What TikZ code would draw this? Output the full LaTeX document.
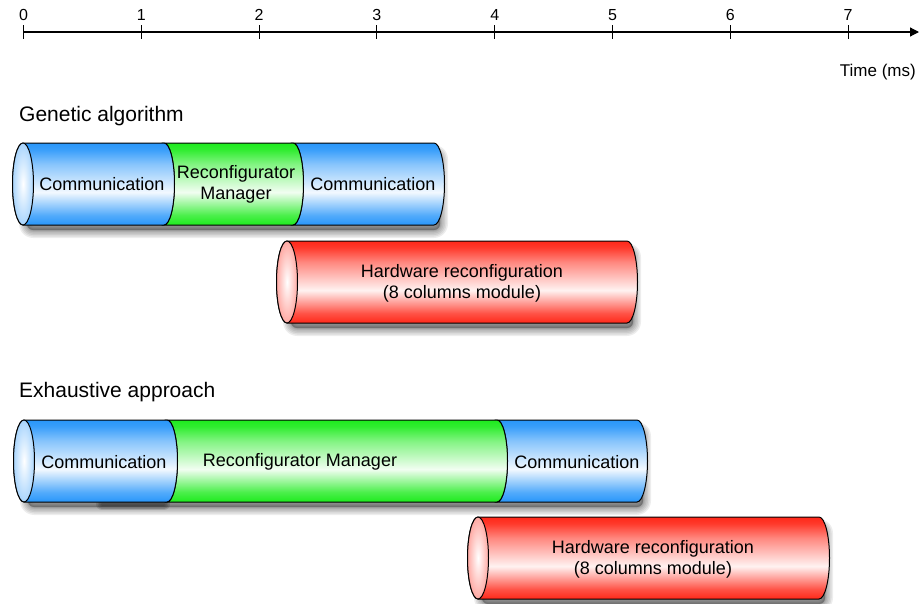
\documentclass[tikz,border=0pt]{standalone}
\usepackage{fontspec}
\setmainfont{Liberation Sans}
\usetikzlibrary{arrows.meta}
\definecolor{cblue}{RGB}{40,150,250}
\definecolor{cgreen}{RGB}{30,235,30}
\definecolor{cred}{RGB}{255,40,25}
\pgfdeclareverticalshading{shblue}{100bp}{color(0bp)=(cblue); color(25bp)=(cblue); color(31bp)=(cblue!80); color(45bp)=(cblue!6); color(62bp)=(cblue!55); color(71bp)=(cblue!92); color(75bp)=(cblue); color(100bp)=(cblue)}
\pgfdeclareverticalshading{shgreen}{100bp}{color(0bp)=(cgreen); color(25bp)=(cgreen); color(31bp)=(cgreen!80); color(45bp)=(cgreen!6); color(62bp)=(cgreen!55); color(71bp)=(cgreen!92); color(75bp)=(cgreen); color(100bp)=(cgreen)}
\pgfdeclareverticalshading{shred}{100bp}{color(0bp)=(cred); color(25bp)=(cred); color(31bp)=(cred!80); color(45bp)=(cred!6); color(62bp)=(cred!55); color(71bp)=(cred!92); color(75bp)=(cred); color(100bp)=(cred)}
\pgfdeclareradialshading{fblue}{\pgfpoint{0bp}{0bp}}{color(0bp)=(white); color(25bp)=(cblue!40); color(50bp)=(cblue!40)}
\pgfdeclareradialshading{fred}{\pgfpoint{0bp}{0bp}}{color(0bp)=(white); color(25bp)=(cred!40); color(50bp)=(cred!40)}
\tikzset{
  outl/.style={draw=black, line width=1pt, shade},
  lbl/.style={font=\fontsize{18}{21}\selectfont, align=center, inner sep=0pt},
  ttl/.style={font=\fontsize{21}{24}\selectfont, anchor=west, inner sep=0pt},
  tick lbl/.style={font=\fontsize{16}{18}\selectfont, inner sep=0pt},
}
\def\rx{10.5pt}
\def\ry{41pt}
% first segment: xs xe y1 y2 bodyshading faceshading
\newcommand\cylfirst[6]{%
  \path[outl, shading=#5] (#1,#3) -- (#2,#3)
     arc[start angle=90, end angle=-90, x radius=\rx, y radius=\ry]
     -- (#1,#4)
     arc[start angle=270, end angle=90, x radius=\rx, y radius=\ry] -- cycle;
  \path[outl, shading=#6] (#1,{(#3+#4)/2}) ellipse[x radius=\rx, y radius=\ry];
}
% following segment: xs xe y1 y2 bodyshading
\newcommand\cylnext[5]{%
  \path[outl, shading=#5] (#1,#3) -- (#2,#3)
     arc[start angle=90, end angle=-90, x radius=\rx, y radius=\ry]
     -- (#1,#4)
     arc[start angle=-90, end angle=90, x radius=\rx, y radius=\ry] -- cycle;
}
% soft shadow: xs xe y1 y2
\newcommand\barshadow[4]{%
  \foreach \w in {16,13,10,7,4,2}{%
    \draw[black, opacity=0.07, line width=\w pt, line join=round, rounded corners=6pt]
      (#1+4,#3+10) -- (#2+6,#3+10) -- (#2+6,#4+5) -- (#1+4,#4+5) -- cycle;}
  \fill[black, opacity=0.3, rounded corners=6pt] (#1+4,#3+10) rectangle (#2+6,#4+5);
}
% darker soft strip: xa xb y
\newcommand\darkstrip[3]{%
  \foreach \w in {12,9,6,3}{%
    \draw[black, opacity=0.12, line width=\w pt, line cap=round] (#1,#3) -- (#2,#3);}
}
\begin{document}
\begin{tikzpicture}[x=1pt, y=-1pt]
\useasboundingbox (0,0) rectangle (919,603);
\fill[white] (0,0) rectangle (919,603);

% time axis
\coordinate (axs) at (23.5,32);
\coordinate (axe) at (919,32);
\draw[line width=1.2pt, -{Triangle[length=9pt, width=9pt]}] (axs) -- (axe);
\foreach \k in {0,...,7}{%
  \draw[line width=1pt] ({23.5+117.8*\k},25) -- ({23.5+117.8*\k},39);
  \node[tick lbl] (t\k) at ({23.5+117.8*\k},15) {\k};
}
\node[tick lbl, font=\fontsize{17}{19}\selectfont, anchor=east] (tms) at (916,72) {Time (ms)};

% titles
\node[ttl] (gtitle) at (19,116) {Genetic algorithm};
\node[ttl] (etitle) at (19,392) {Exhaustive approach};

% shadows
\barshadow{23}{434}{143}{225}
\barshadow{287}{627}{241}{323}
\barshadow{24}{637}{420}{502}
\barshadow{478}{819}{517}{599}
\darkstrip{102}{164}{504}

% genetic algorithm bar
\cylnext{293}{434}{143}{225}{shblue}
\cylnext{164}{293}{143}{225}{shgreen}
\cylfirst{23}{164}{143}{225}{shblue}{fblue}
\node[lbl] (gc1) at (102,184) {Communication};
\node[lbl] (grm) at (236,184) {Reconfigurator\\Manager};
\node[lbl] (gc2) at (373,184) {Communication};

% genetic hardware reconfiguration
\cylfirst{287}{627}{241}{323}{shred}{fred}
\node[lbl] (ghw) at (462,283) {Hardware reconfiguration\\(8 columns module)};

% exhaustive bar
\cylnext{497}{637}{420}{502}{shblue}
\cylnext{167}{497}{420}{502}{shgreen}
\cylfirst{24}{167}{420}{502}{shblue}{fblue}
\node[lbl] (ec1) at (104,462) {Communication};
\node[lbl] (erm) at (300,462) {Reconfigurator Manager};
\node[lbl] (ec2) at (577,462) {Communication};

% exhaustive hardware reconfiguration
\cylfirst{478}{819}{517}{599}{shred}{fred}
\node[lbl] (ehw) at (653,559) {Hardware reconfiguration\\(8 columns module)};
\end{tikzpicture}
\end{document}
